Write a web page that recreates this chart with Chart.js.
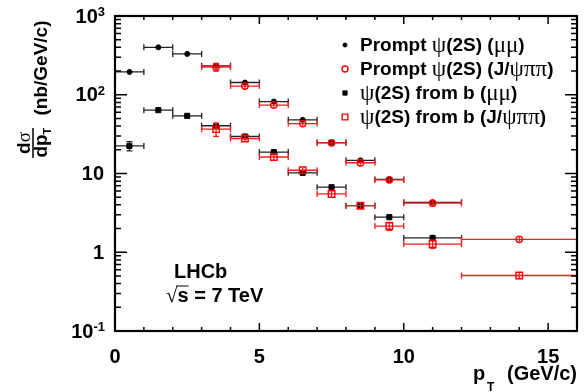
<!DOCTYPE html>
<html lang="en">
<head>
<meta charset="UTF-8">
<title>psi(2S) cross-section vs pT</title>
<script src="https://cdn.jsdelivr.net/npm/chart.js"></script>
<style>
  html, body { margin: 0; padding: 0; background: #fff; }
  canvas { display: block; }
</style>
</head>
<body>
<canvas id="xsec" width="587" height="392"></canvas>
<script>
// pT bins (GeV/c)
const ptLow  = [0, 1, 2, 3, 4, 5, 6, 7, 8, 9, 10, 12];
const ptHigh = [1, 2, 3, 4, 5, 6, 7, 8, 9, 10, 12, 16];

// d sigma / d pT (nb/GeV/c), null = no point
const promptMuMu        = [195, 400, 330, 233, 143, 82, 48, 24.7, 14.7, 8.4, 4.3, null];
const promptMuMuErr     = [10, 14, 11, 12, 6, 3, 2, 1.2, 0.7, 0.5, 0.3, null];
const promptJpsiPiPi    = [null, null, null, 225, 129, 74, 43, 24.5, 13.7, 8.3, 4.2, 1.46];
const promptJpsiPiPiErr = [null, null, null, 26, 10, 4, 2.5, 1.5, 0.8, 0.6, 0.35, 0.1];
const fromBMuMu         = [22.4, 63.7, 54, 40.4, 29.5, 18.7, 10.2, 6.7, 3.9, 2.79, 1.52, null];
const fromBMuMuErr      = [3, 3, 2.5, 2, 1.5, 1, 0.6, 0.4, 0.3, 0.25, 0.15, null];
const fromBJpsiPiPi     = [null, null, null, 36.6, 27.8, 16.2, 11.0, 5.5, 3.9, 2.15, 1.27, 0.507];
const fromBJpsiPiPiErr  = [null, null, null, 7, 2.5, 1.5, 0.8, 0.5, 0.3, 0.25, 0.15, 0.05];

const legendLabels = [
  'Prompt ψ(2S) (μμ)',
  'Prompt ψ(2S) (J/ψππ)',
  'ψ(2S) from b (μμ)',
  'ψ(2S) from b (J/ψππ)'
];
const xTickValues = [0, 5, 10, 15];
const yTickValues = [0.1, 1, 10, 100, 1000];

const FONT = '"Liberation Sans", Helvetica, Arial, sans-serif';

function toPoints(vals, errs) {
  const pts = [];
  vals.forEach((v, i) => {
    if (v === null) return;
    pts.push({ x: (ptLow[i] + ptHigh[i]) / 2, y: v, xLo: ptLow[i], xHi: ptHigh[i], yErr: errs[i] });
  });
  return pts;
}

// text with greek letters drawn in a plain serif face, like ROOT's symbol font
function drawRich(ctx, text, x, y, size, greekExtra) {
  const parts = text.match(/[\u0370-\u03ff\u221a]+|[^\u0370-\u03ff\u221a]+/g);
  parts.forEach(part => {
    const greek = /[\u0370-\u03ff\u221a]/.test(part);
    ctx.font = greek ? `${size + greekExtra}px "Liberation Serif", serif` : `bold ${size}px ${FONT}`;
    ctx.fillText(part, x, y);
    x += ctx.measureText(part).width;
  });
  return x;
}

// horizontal (bin width) and vertical error bars
const errorBars = {
  id: 'errorBars',
  beforeDatasetDraw(chart, args) {
    const ds = chart.data.datasets[args.index];
    const { ctx, scales: { x, y } } = chart;
    ctx.save();
    ctx.strokeStyle = ds.barColor;
    ctx.lineWidth = 1.3;
    ds.data.forEach(p => {
      const px = x.getPixelForValue(p.x), py = y.getPixelForValue(p.y);
      const x0 = x.getPixelForValue(p.xLo), x1 = x.getPixelForValue(p.xHi);
      const y0 = y.getPixelForValue(p.y - p.yErr), y1 = y.getPixelForValue(p.y + p.yErr);
      ctx.beginPath();
      ctx.moveTo(x0, py); ctx.lineTo(x1, py);
      ctx.moveTo(x0, py - 3); ctx.lineTo(x0, py + 3);
      ctx.moveTo(x1, py - 3); ctx.lineTo(x1, py + 3);
      ctx.moveTo(px, y0); ctx.lineTo(px, y1);
      if (Math.abs(y0 - y1) > 7) {
        ctx.moveTo(px - 3, y0); ctx.lineTo(px + 3, y0);
        ctx.moveTo(px - 3, y1); ctx.lineTo(px + 3, y1);
      }
      ctx.stroke();
    });
    ctx.restore();
  }
};

// ROOT-like frame, inner ticks, labels, titles, legend
const decorations = {
  id: 'decorations',
  afterDraw(chart) {
    const { ctx, chartArea: a, scales: { x, y } } = chart;
    ctx.save();
    ctx.strokeStyle = '#000';
    ctx.fillStyle = '#000';

    // ticks
    ctx.lineWidth = 1.5;
    ctx.beginPath();
    for (let v = 0; v <= 16; v++) {
      const px = x.getPixelForValue(v);
      const len = v % 5 === 0 ? 8 : 4;
      ctx.moveTo(px, a.bottom); ctx.lineTo(px, a.bottom - len);
      ctx.moveTo(px, a.top); ctx.lineTo(px, a.top + len);
    }
    for (let d = -1; d <= 2; d++) {
      for (let m = 1; m <= 9; m++) {
        const py = y.getPixelForValue(m * Math.pow(10, d));
        const len = m === 1 ? 12 : 6;
        ctx.moveTo(a.left, py); ctx.lineTo(a.left + len, py);
        ctx.moveTo(a.right, py); ctx.lineTo(a.right - len, py);
      }
    }
    ctx.stroke();

    // frame
    ctx.lineWidth = 2.2;
    ctx.strokeRect(a.left, a.top, a.right - a.left, a.bottom - a.top);

    // y tick labels: 10^n
    const rightEdge = a.left - 11;
    yTickValues.forEach(v => {
      const e = Math.round(Math.log10(v));
      const py = y.getPixelForValue(v) + 1;
      ctx.textBaseline = 'middle';
      ctx.textAlign = 'right';
      if (e === 0 || e === 1) {
        ctx.font = `bold 20px ${FONT}`;
        ctx.fillText(e === 0 ? '1' : '10', rightEdge, py);
      } else {
        ctx.font = `bold 13px ${FONT}`;
        const exp = String(e);
        const w = ctx.measureText(exp).width;
        ctx.textBaseline = 'alphabetic';
        ctx.fillText(exp, rightEdge + 1, py - 1);
        ctx.textBaseline = 'middle';
        ctx.font = `bold 20px ${FONT}`;
        ctx.fillText('10', rightEdge + 1 - w, py);
      }
    });

    // x title
    ctx.textBaseline = 'alphabetic';
    ctx.textAlign = 'left';
    ctx.font = `bold 20px ${FONT}`;
    ctx.fillText('p', 473, 380);
    ctx.font = `bold 12px ${FONT}`;
    ctx.fillText('T', 487, 391);
    ctx.textAlign = 'right';
    ctx.font = `bold 20px ${FONT}`;
    ctx.fillText('(GeV/c)', 577, 380);

    // y title: d sigma / d pT (nb/GeV/c)
    ctx.save();
    ctx.translate(33, 143);
    ctx.rotate(-Math.PI / 2);
    ctx.textAlign = 'left';
    ctx.textBaseline = 'alphabetic';
    ctx.font = `bold 19px ${FONT}`;
    const wd = ctx.measureText('d').width;
    ctx.font = `19px "Liberation Serif", serif`;
    const ws = ctx.measureText('σ').width;
    const sx = -(wd + ws) / 2;
    ctx.font = `bold 19px ${FONT}`;
    ctx.fillText('d', sx, -3);
    ctx.font = `19px "Liberation Serif", serif`;
    ctx.fillText('σ', sx + wd, -3);
    ctx.font = `bold 19px ${FONT}`;
    const wdp = ctx.measureText('dp').width;
    ctx.fillText('dp', -(wdp + 6) / 2, 14);
    ctx.font = `bold 11px ${FONT}`;
    ctx.fillText('T', -(wdp + 6) / 2 + wdp, 18);
    ctx.lineWidth = 1.5;
    ctx.beginPath();
    ctx.moveTo(-15, 0); ctx.lineTo(15, 0);
    ctx.stroke();
    ctx.restore();

    ctx.save();
    ctx.translate(47, 68);
    ctx.rotate(-Math.PI / 2);
    ctx.textAlign = 'center';
    ctx.textBaseline = 'alphabetic';
    ctx.font = `bold 19px ${FONT}`;
    ctx.fillText('(nb/GeV/c)', 0, 0);
    ctx.restore();

    // legend
    const rows = [45, 69, 93, 117];
    const legendRadius = { circle: 2, rect: 3 };
    ctx.textAlign = 'left';
    ctx.textBaseline = 'middle';
    chart.data.datasets.forEach(ds => {
      const row = ds.legendRow;
      ctx.fillStyle = ds.pointBackgroundColor;
      ctx.strokeStyle = ds.pointBorderColor;
      ctx.lineWidth = ds.pointBorderWidth;
      const open = ds.pointBackgroundColor !== '#000';
      Chart.helpers.drawPoint(ctx, {
        pointStyle: ds.pointStyle,
        radius: legendRadius[ds.pointStyle] + (open ? 1 : 0),
        borderWidth: ds.pointBorderWidth
      }, 345, rows[row]);
      ctx.fillStyle = '#000';
      drawRich(ctx, legendLabels[row], 360, rows[row] + 1, 19, 4);
    });

    // experiment label
    ctx.textAlign = 'left';
    ctx.fillStyle = '#000';
    ctx.font = `bold 20px ${FONT}`;
    ctx.fillText('LHCb', 174, 272);
    const tx = drawRich(ctx, '√', 166, 296, 19, 2);
    ctx.lineWidth = 1;
    ctx.strokeStyle = '#000';
    ctx.beginPath();
    ctx.moveTo(tx - 1, 286); ctx.lineTo(tx + 11, 286);
    ctx.stroke();
    ctx.font = `bold 20px ${FONT}`;
    ctx.fillText('s = 7 TeV', tx, 296);

    ctx.restore();
  }
};

const datasets = [
  {
    label: legendLabels[0], legendRow: 0, order: 4,
    data: toPoints(promptMuMu, promptMuMuErr),
    barColor: '#222',
    pointStyle: 'circle', pointRadius: 2.5, pointBorderWidth: 1,
    pointBackgroundColor: '#000', pointBorderColor: '#000'
  },
  {
    label: legendLabels[2], legendRow: 2, order: 3,
    data: toPoints(fromBMuMu, fromBMuMuErr),
    barColor: '#222',
    pointStyle: 'rect', pointRadius: 3.6, pointBorderWidth: 1,
    pointBackgroundColor: '#000', pointBorderColor: '#000'
  },
  {
    label: legendLabels[1], legendRow: 1, order: 2,
    data: toPoints(promptJpsiPiPi, promptJpsiPiPiErr),
    barColor: '#ff1a1a',
    pointStyle: 'circle', pointRadius: 3.2, pointBorderWidth: 1.4,
    pointBackgroundColor: 'rgba(0,0,0,0)', pointBorderColor: '#ff0000'
  },
  {
    label: legendLabels[3], legendRow: 3, order: 1,
    data: toPoints(fromBJpsiPiPi, fromBJpsiPiPiErr),
    barColor: '#ff1a1a',
    pointStyle: 'rect', pointRadius: 4.6, pointBorderWidth: 1.4,
    pointBackgroundColor: 'rgba(0,0,0,0)', pointBorderColor: '#ff0000'
  }
];

new Chart(document.getElementById('xsec').getContext('2d'), {
  type: 'scatter',
  data: { datasets: datasets },
  options: {
    responsive: false,
    animation: false,
    layout: { padding: { top: 16, right: 10, left: 0, bottom: 0 } },
    plugins: { legend: { display: false }, tooltip: { enabled: false } },
    scales: {
      x: {
        type: 'linear', min: 0, max: 16,
        grid: { display: false }, border: { display: false },
        ticks: { color: '#000', padding: 6, font: { family: FONT, size: 20, weight: 'bold' } },
        afterBuildTicks: s => { s.ticks = xTickValues.map(v => ({ value: v })); },
        afterFit: s => { s.height = 61; }
      },
      y: {
        type: 'logarithmic', min: 0.1, max: 1000,
        grid: { display: false }, border: { display: false },
        ticks: { display: false },
        afterFit: s => { s.width = 115; }
      }
    }
  },
  plugins: [errorBars, decorations]
});
</script>
</body>
</html>
